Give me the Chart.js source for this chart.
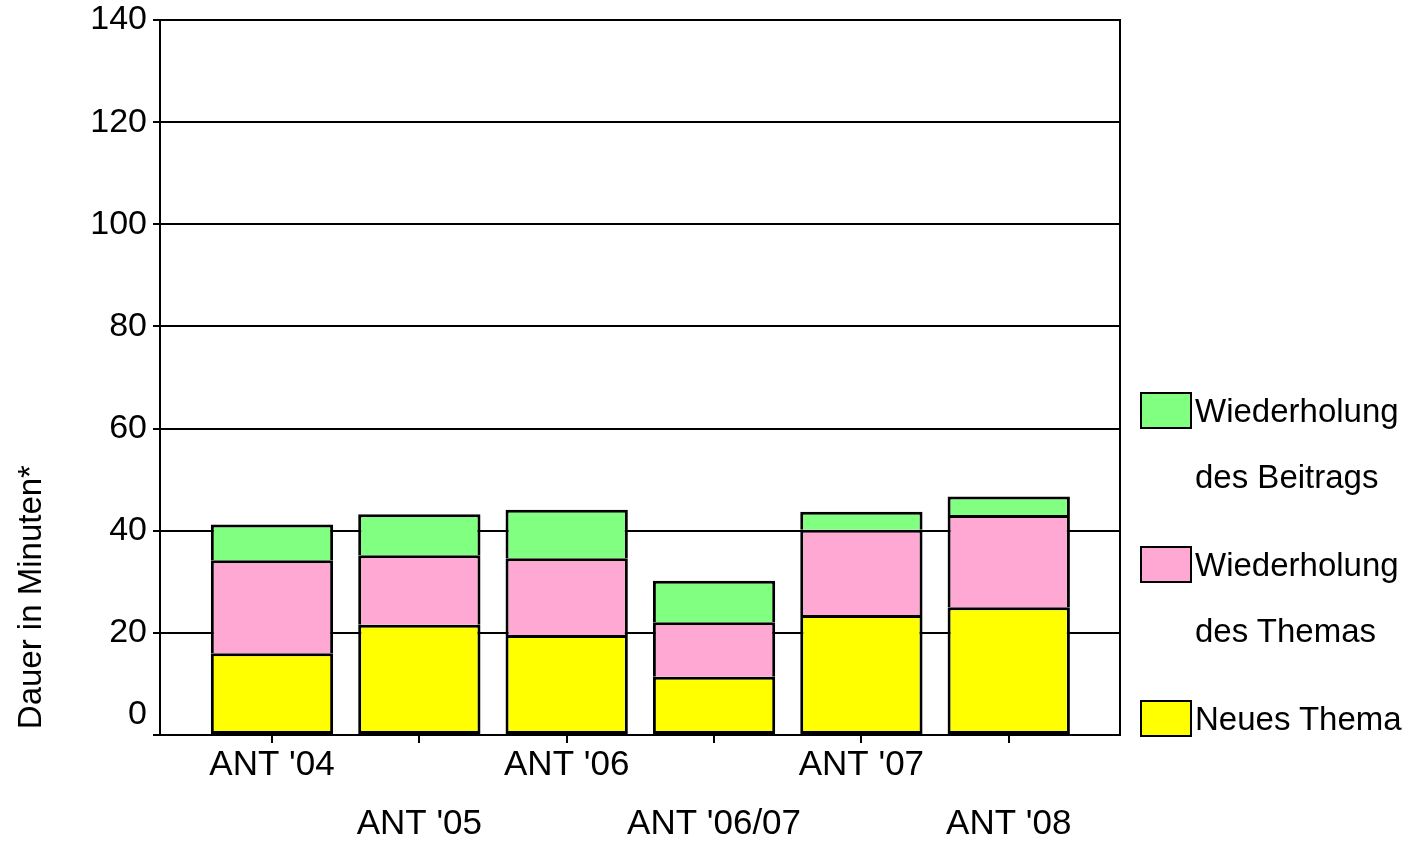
<!DOCTYPE html>
<html lang="de">
<head>
  <meta charset="UTF-8">
  <title>Dauer in Minuten</title>
  <script src="https://cdn.jsdelivr.net/npm/chart.js"></script>
  <style>
    body { margin: 0; background: #fff; }
    #wrap { position: relative; width: 1416px; height: 842px; }
    #legend { position: absolute; left: 1140px; top: 392px; font-family: 'Liberation Sans', Arial, sans-serif; font-size: 33px; color: #000; }
    .item { display: flex; align-items: flex-start; height: 154px; }
    .box { width: 48px; height: 33px; border: 2px solid #000; margin-right: 3px; flex: none; }
    .txt { line-height: 66px; margin-top: -14px; white-space: nowrap; }
  </style>
</head>
<body>
  <div id="wrap">
    <canvas id="chart" width="1416" height="842"></canvas>
    <div id="legend"></div>
  </div>

  <script>
    // data (minutes)
    const categories = ["ANT '04", "ANT '05", "ANT '06", "ANT '06/07", "ANT '07", "ANT '08"];
    const neuesThema = [16.0, 21.6, 19.6, 11.4, 23.5, 25.0];
    const wdhThema = [18.2, 13.6, 15.0, 10.7, 16.7, 18.1];
    const wdhBeitrag = [7.0, 8.0, 9.5, 8.1, 3.5, 3.6];
    const yTicks = [0, 20, 40, 60, 80, 100, 120, 140];

    const FONT = "'Liberation Sans', Arial, sans-serif";

    const datasets = [
      { label: 'Neues Thema', legend: ['Neues Thema'], data: neuesThema, backgroundColor: '#ffff00' },
      { label: 'Wiederholung des Themas', legend: ['Wiederholung', 'des Themas'], data: wdhThema, backgroundColor: '#ffa8d4' },
      { label: 'Wiederholung des Beitrags', legend: ['Wiederholung', 'des Beitrags'], data: wdhBeitrag, backgroundColor: '#80ff80' }
    ];

    // y axis title sits low, next to the bars
    const yTitle = {
      id: 'yTitle',
      afterDraw(chart) {
        const c = chart.ctx;
        const y = chart.scales.y.getPixelForValue(27);
        c.save();
        c.translate(32, y);
        c.rotate(-Math.PI / 2);
        c.font = '33px ' + FONT;
        c.fillStyle = '#000';
        c.textAlign = 'center';
        c.textBaseline = 'middle';
        c.fillText('Dauer in Minuten*', 0, 0);
        c.restore();
      }
    };

    new Chart(document.getElementById('chart'), {
      type: 'bar',
      data: {
        labels: categories.map((c, i) => i),
        datasets: datasets.map((d, k) => ({
          label: d.label,
          data: d.data,
          backgroundColor: d.backgroundColor,
          borderColor: '#000',
          // one shared line between stacked segments
          borderWidth: { top: 3, left: 3, right: 3, bottom: k === 0 ? 3 : 0 },
          borderSkipped: false,
          categoryPercentage: 1,
          barPercentage: 0.83
        }))
      },
      options: {
        responsive: false,
        animation: false,
        layout: { padding: { top: 20, left: 0, right: 0, bottom: 0 } },
        plugins: { legend: { display: false }, tooltip: { enabled: false } },
        scales: {
          x: {
            type: 'linear',
            stacked: true,
            offset: false,
            min: -0.76,
            max: 5.755,
            afterBuildTicks: s => { s.ticks = categories.map((c, i) => ({ value: i })); },
            afterFit: s => { s.height = 107; },
            ticks: {
              color: '#000',
              font: { family: FONT, size: 35, lineHeight: 1.69 },
              padding: -7,
              maxRotation: 0,
              autoSkip: false,
              callback: (v, i) => i % 2 ? ['', categories[i]] : [categories[i]]
            },
            grid: { offset: false, drawOnChartArea: false, color: '#000', lineWidth: 2, tickLength: 8 },
            border: { color: '#000', width: 2 }
          },
          y: {
            stacked: true,
            min: 0,
            max: 140,
            afterBuildTicks: s => { s.ticks = yTicks.map(v => ({ value: v })); },
            afterFit: s => { s.width = 160; s.paddingTop = 0; },
            ticks: {
              color: '#000',
              font: { family: FONT, size: 34 },
              padding: 6,
              callback: v => v === 0 ? ['0', ''] : String(v)
            },
            grid: { color: '#000', lineWidth: 2, tickLength: 7 },
            border: { color: '#000', width: 2 }
          },
          y2: {
            position: 'right',
            min: 0,
            max: 140,
            afterFit: s => { s.width = 296; },
            ticks: { display: false },
            grid: { drawOnChartArea: false, drawTicks: false },
            border: { color: '#000', width: 2 }
          }
        }
      },
      plugins: [yTitle]
    });

    // legend on the right, top item = top of the stack
    const legend = document.getElementById('legend');
    datasets.slice().reverse().forEach(d => {
      const item = document.createElement('div');
      item.className = 'item';
      item.innerHTML = `<div class="box" style="background:${d.backgroundColor}"></div><div class="txt">${d.legend.join('<br>')}</div>`;
      legend.appendChild(item);
    });
  </script>
</body>
</html>
